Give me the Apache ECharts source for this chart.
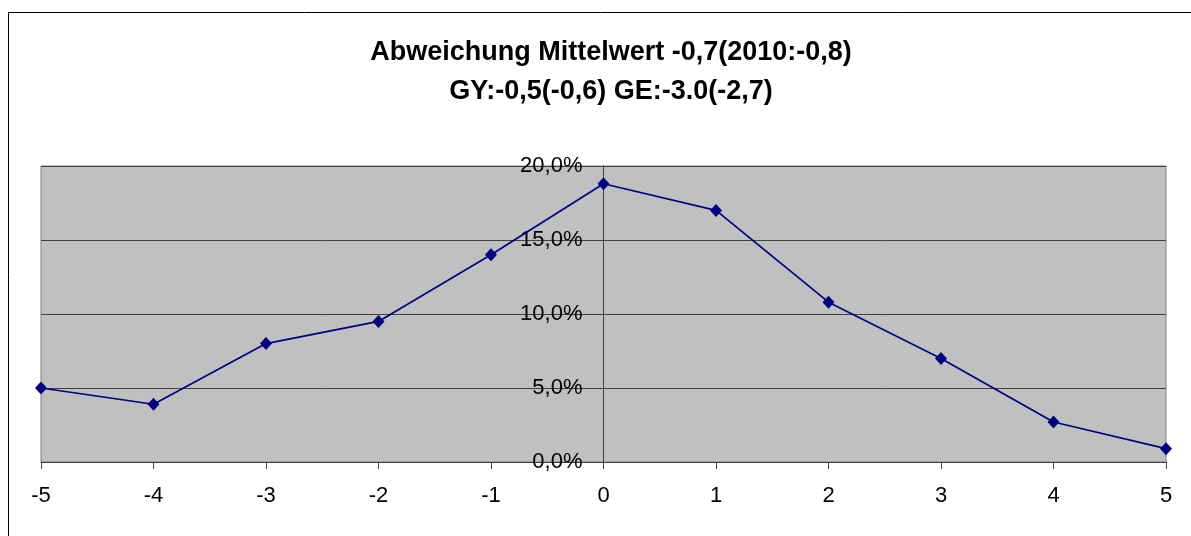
<!DOCTYPE html>
<html>
<head>
<meta charset="utf-8">
<script src="https://cdn.jsdelivr.net/npm/echarts@6/dist/echarts.min.js"></script>
<style>
html,body{margin:0;padding:0;background:#fff;}
#c{width:1191px;height:536px;}
</style>
</head>
<body>
<div id="c"></div>
<script>
var titleText = 'Abweichung Mittelwert -0,7(2010:-0,8)\nGY:-0,5(-0,6) GE:-3.0(-2,7)';
var categories = [-5, -4, -3, -2, -1, 0, 1, 2, 3, 4, 5];
var values = [5.0, 3.9, 8.0, 9.5, 14.0, 18.8, 17.0, 10.8, 7.0, 2.7, 0.9];
var yTicks = [0, 5, 10, 15, 20];

var font = '"Liberation Sans", Arial, sans-serif';
var W = 1191, gridLeft = 41, gridRight = 25;
var zeroX = gridLeft + (W - gridLeft - gridRight) / 2;

var chart = echarts.init(document.getElementById('c'), null, {renderer: 'canvas'});
chart.setOption({
  animation: false,
  backgroundColor: '#ffffff',
  title: {
    text: titleText,
    left: 606,
    top: 28,
    textAlign: 'center',
    textStyle: {fontFamily: font, fontSize: 27, fontWeight: 'bold', color: '#000', lineHeight: 39}
  },
  graphic: [{
    type: 'rect',
    shape: {x: 8.5, y: 12.5, width: 1300, height: 700},
    style: {fill: null, stroke: '#000', lineWidth: 1},
    silent: true, z: -1
  }],
  grid: {
    left: gridLeft, right: gridRight, top: 166, bottom: 74,
    containLabel: false, outerBoundsMode: 'none',
    show: true, backgroundColor: '#c0c0c0', borderColor: '#808080', borderWidth: 1
  },
  xAxis: {
    type: 'value',
    min: categories[0], max: categories[categories.length - 1], interval: 1,
    axisLine: {show: true, onZero: false, lineStyle: {color: '#404040', width: 1}},
    axisTick: {show: true, length: 7, lineStyle: {color: '#404040'}},
    axisLabel: {fontFamily: font, fontSize: 22, color: '#000', margin: 23,
      formatter: function (v) { return String(v); }},
    splitLine: {show: false}
  },
  yAxis: {
    type: 'value',
    min: yTicks[0], max: yTicks[yTicks.length - 1], interval: 5,
    offset: -(zeroX - gridLeft),
    axisLine: {show: true, onZero: false, lineStyle: {color: '#404040', width: 1}},
    axisTick: {show: true, length: 7, lineStyle: {color: '#404040'}},
    axisLabel: {fontFamily: font, fontSize: 22, color: '#000', margin: 21,
      formatter: function (v) { return v.toFixed(1).replace('.', ',') + '%'; }},
    splitLine: {show: true, lineStyle: {color: '#404040', width: 1}}
  },
  series: [{
    type: 'line',
    data: categories.map(function (c, i) { return [c, values[i]]; }),
    lineStyle: {color: '#000080', width: 1.7},
    itemStyle: {color: '#000080'},
    symbol: 'diamond',
    symbolSize: [12, 13],
    showSymbol: true,
    z: 5
  }]
});
</script>
</body>
</html>
